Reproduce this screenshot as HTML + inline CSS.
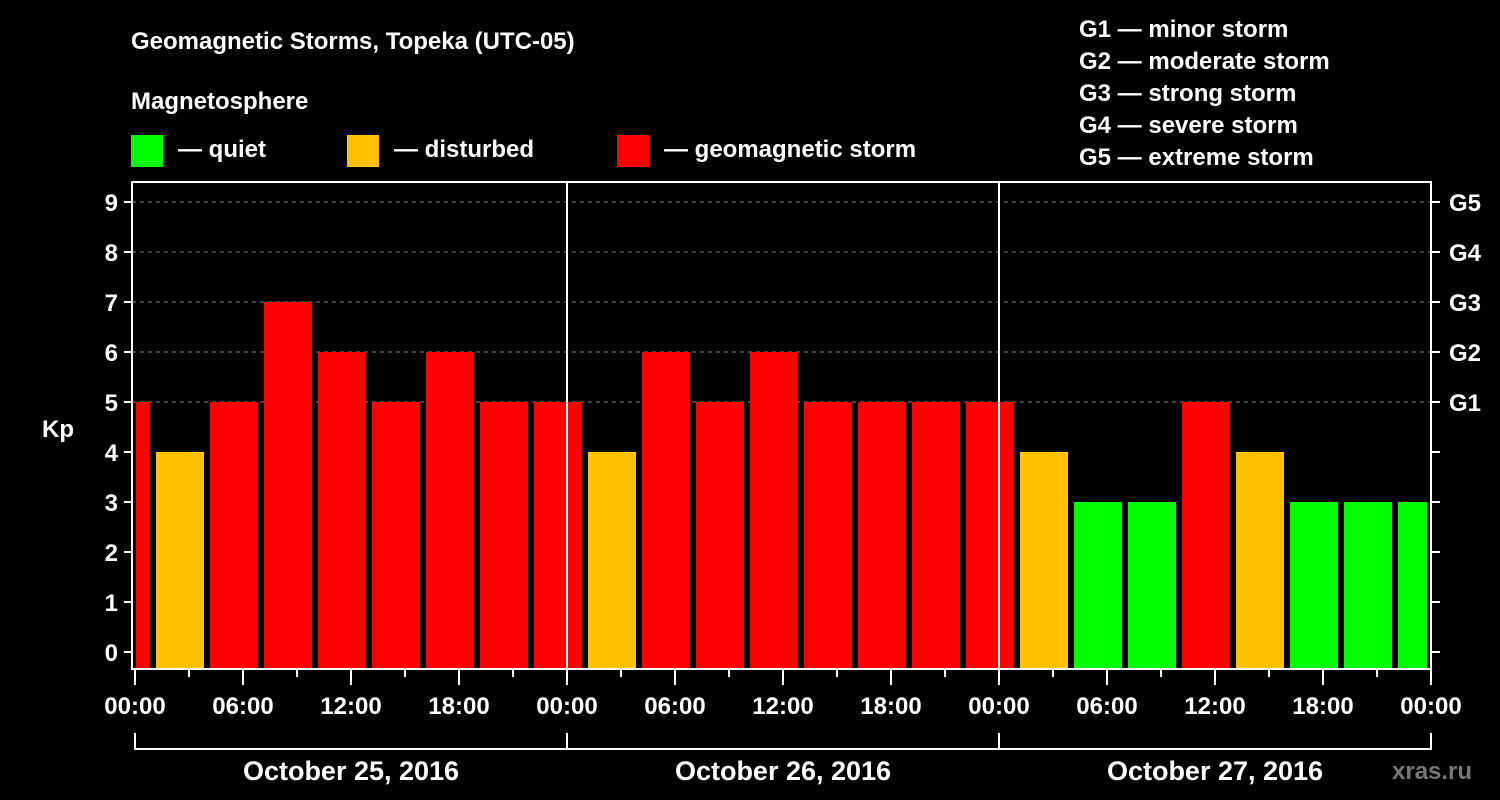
<!DOCTYPE html>
<html><head><meta charset="utf-8"><style>
html,body{margin:0;padding:0;background:#000;}
svg{display:block;font-family:"Liberation Sans",sans-serif;font-weight:bold;}
</style></head><body>
<svg id="c" width="1500" height="800" xmlns="http://www.w3.org/2000/svg">
<rect width="1500" height="800" fill="#000"/>
<text x="131" y="49" fill="#fff" font-size="24">Geomagnetic Storms, Topeka (UTC-05)</text>
<text x="131" y="109" fill="#fff" font-size="24">Magnetosphere</text>
<g><rect x="131" y="135" width="32" height="32" fill="#00ff00"/><text x="178" y="157" fill="#fff" font-size="24">— quiet</text></g>
<g><rect x="347" y="135" width="32" height="32" fill="#ffc000"/><text x="394" y="157" fill="#fff" font-size="24">— disturbed</text></g>
<g><rect x="617" y="135" width="32" height="32" fill="#ff0000"/><text x="664" y="157" fill="#fff" font-size="24">— geomagnetic storm</text></g>
<g fill="#fff" font-size="24">
<text x="1079" y="37">G1 — minor storm</text>
<text x="1079" y="69">G2 — moderate storm</text>
<text x="1079" y="101">G3 — strong storm</text>
<text x="1079" y="133">G4 — severe storm</text>
<text x="1079" y="165">G5 — extreme storm</text>
</g>
<text x="42" y="437" fill="#fff" font-size="24">Kp</text>
<text x="1392" y="779" fill="#777" font-size="24">xras.ru</text>
<g id="plot"></g>
</svg>
<script>
const barStarts=[-2,1,4,7,10,13,16,19,22,25,28,31,34,37,40,43,46,49,52,55,58,61,64,67,70];
const kpValues=[5,4,5,7,6,5,6,5,5,4,6,5,6,5,5,5,5,4,3,3,5,4,3,3,3];
const yTicks=[0,1,2,3,4,5,6,7,8,9];
const gLabels=["","","","","","G1","G2","G3","G4","G5"];
const xTickLabels=["00:00","06:00","12:00","18:00","00:00","06:00","12:00","18:00","00:00","06:00","12:00","18:00","00:00"];
const dayLabels=["October 25, 2016","October 26, 2016","October 27, 2016"];
const NS="http://www.w3.org/2000/svg";
const g=document.getElementById('plot');
const L=132,R=1431,T=182,B=669;
const x=t=>135+18*t;
const y=v=>652-50*v;
function mk(tag,a){const e=document.createElementNS(NS,tag);for(const k in a)e.setAttribute(k,a[k]);g.appendChild(e);return e;}
function color(v){return v>=5?'#ff0000':v>=4?'#ffc000':'#00ff00';}
// grid
yTicks.forEach(v=>{if(v>=5){const e=mk('line',{x1:L,x2:R,y1:y(v),y2:y(v),stroke:'#888','stroke-dasharray':'4,4','stroke-width':1});

}});
// bars
barStarts.forEach((t,i)=>{let x0=Math.max(x(t)+3,L+4),x1=Math.min(x(t+3)-3,R-4);
const e=mk('rect',{x:x0,y:y(kpValues[i]),width:x1-x0,height:B-y(kpValues[i]),fill:color(kpValues[i])});

});
// day separators
[24,48].forEach(t=>{const e=mk('line',{x1:x(t),x2:x(t),y1:T,y2:B,stroke:'#fff','stroke-width':2});

});
// frame
const f=mk('rect',{x:L,y:T,width:R-L,height:B-T,fill:'none',stroke:'#fff','stroke-width':2});


// y ticks
yTicks.forEach((v,i)=>{mk('line',{x1:L-8,x2:L,y1:y(v),y2:y(v),stroke:'#fff','stroke-width':2});
mk('line',{x1:R,x2:R+9,y1:y(v),y2:y(v),stroke:'#fff','stroke-width':2});
const t=mk('text',{x:L-14,y:y(v)+9,fill:'#fff','font-size':24,'text-anchor':'end'});t.textContent=v;


if(gLabels[i]){const gl=mk('text',{x:R+18,y:y(v)+9,fill:'#fff','font-size':24});gl.textContent=gLabels[i];

}});
// x ticks
for(let h=0;h<=72;h+=3){mk('line',{x1:x(h),x2:x(h),y1:B,y2:h%6===0?B+16:B+8,stroke:'#fff','stroke-width':2});}
xTickLabels.forEach((s,i)=>{const t=mk('text',{x:x(i*6),y:714,fill:'#fff','font-size':24,'text-anchor':'middle'});t.textContent=s;

});
// day brackets
dayLabels.forEach((s,i)=>{const a=x(i*24),b=x(i*24+24);
mk('polyline',{points:`${a},733 ${a},749 ${b},749 ${b},733`,fill:'none',stroke:'#fff','stroke-width':2});
const t=mk('text',{x:(a+b)/2,y:780,fill:'#fff','font-size':27,'text-anchor':'middle'});t.textContent=s;

});
</script>
</body></html>
